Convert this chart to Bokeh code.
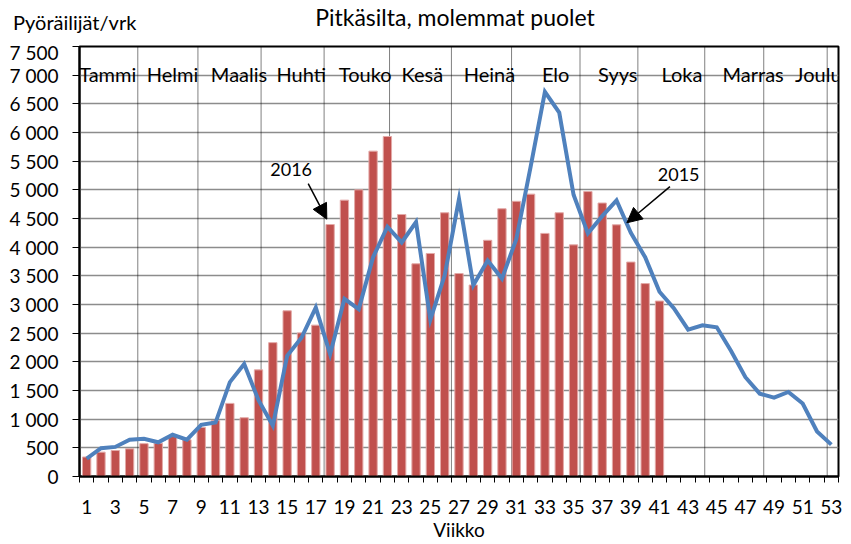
from bokeh.plotting import figure
from bokeh.layouts import column
from bokeh.models import (FixedTicker, Label, Arrow, NormalHead, ColumnDataSource,
                          Range1d, Div)
from bokeh.core.properties import value
from bokeh.embed import file_html
from bokeh.resources import INLINE

# ---- data ----
weeks = list(range(1, 54))
weeks_2016 = list(range(1, 42))
visits_2016 = [340, 425, 453, 482, 573, 580, 700, 640, 855, 975,
               1275, 1025, 1860, 2335, 2890, 2505, 2640, 4395, 4820, 5000,
               5675, 5930, 4570, 3710, 3890, 4600, 3540, 3340, 4120, 4670,
               4800, 4925, 4240, 4600, 4040, 4970, 4770, 4390, 3740, 3365,
               3060]
visits_2015 = [310, 493, 516, 642, 659, 597, 728, 642, 900, 941,
               1646, 1961, 1330, 889, 2104, 2420, 2947, 2133, 3100, 2920,
               3824, 4357, 4082, 4437, 2735, 3509, 4839, 3337, 3767, 3452,
               4140, 5401, 6708, 6347, 4914, 4240, 4541, 4816, 4250, 3824,
               3222, 2936, 2563, 2637, 2602, 2190, 1732, 1445, 1376, 1474,
               1273, 786, 556]
months = ["Tammi", "Helmi", "Maalis", "Huhti", "Touko", "Kesä", "Heinä",
          "Elo", "Syys", "Loka", "Marras", "Joulu"]
month_label_x = [2.47, 6.99, 11.64, 15.98, 20.45, 24.44, 29.13, 33.75,
                 38.09, 42.57, 47.54, 52.09]
month_bounds = [4.57, 8.77, 13.18, 17.58, 22.15, 26.47, 30.67, 35.45,
                39.49, 44.16, 48.28, 52.71]
y_ticks = list(range(0, 7501, 500))
y_tick_labels = ["0", "500", "1 000", "1 500", "2 000", "2 500", "3 000",
                 "3 500", "4 000", "4 500", "5 000", "5 500", "6 000",
                 "6 500", "7 000", "7 500"]
x_tick_labels = list(range(1, 54, 2))

title_text = "Pitkäsilta, molemmat puolet"
y_label_text = "Pyöräilijät/vrk"
x_label_text = "Viikko"

FONT = "Lato"
TXT = "#000000"

p = figure(width=850, height=503, output_backend="svg", toolbar_location=None,
           x_range=Range1d(0.5, 53.5), y_range=Range1d(0, 7500),
           min_border_left=79, min_border_right=12, min_border_top=6,
           min_border_bottom=59)
p.background_fill_color = "white"
p.border_fill_color = "white"
p.outline_line_color = "black"
p.outline_line_width = 2

# grid
p.xgrid.grid_line_color = None
p.ygrid.ticker = FixedTicker(ticks=y_ticks)
p.ygrid.grid_line_color = "#8c8c8c"
p.ygrid.grid_line_width = 1.5

# y axis
p.yaxis.ticker = FixedTicker(ticks=y_ticks)
p.yaxis.major_label_overrides = {t: s for t, s in zip(y_ticks, y_tick_labels)}
p.yaxis.major_label_text_font = FONT
p.yaxis.major_label_text_font_size = "19px"
p.yaxis.major_label_text_color = TXT
p.yaxis.axis_line_color = "black"
p.yaxis.axis_line_width = 2
p.yaxis.major_tick_out = 7
p.yaxis.major_tick_in = 0
p.yaxis.major_tick_line_color = "black"
p.yaxis.minor_tick_line_color = None
p.yaxis.major_label_standoff = 14

# x axis
p.xaxis.ticker = FixedTicker(ticks=x_tick_labels,
                             minor_ticks=[w - 0.5 for w in weeks] + [53.5])
p.xaxis.major_label_text_font = FONT
p.xaxis.major_label_text_font_size = "19px"
p.xaxis.major_label_text_color = TXT
p.xaxis.axis_line_color = "black"
p.xaxis.axis_line_width = 2
p.xaxis.major_tick_line_color = None
p.xaxis.major_tick_out = 6
p.xaxis.minor_tick_line_color = "black"
p.xaxis.minor_tick_out = 6
p.xaxis.minor_tick_in = 0
p.xaxis.major_label_standoff = 17
p.xaxis.axis_label = x_label_text
p.xaxis.axis_label_text_font = FONT
p.xaxis.axis_label_text_font_size = "19px"
p.xaxis.axis_label_text_font_style = "normal"
p.xaxis.axis_label_text_color = TXT
p.xaxis.axis_label_standoff = 1

# month dividers
p.segment(x0=month_bounds, x1=month_bounds, y0=[0] * len(month_bounds),
          y1=[7500] * len(month_bounds), line_color="black", line_width=1,
          line_dash="1 1")

# bars 2016
p.vbar(x=weeks_2016, top=visits_2016, width=0.58, fill_color="#C0504D",
       line_color="#E3A9A7", line_width=1)

# line 2015
p.line(x=weeks, y=visits_2015, line_color="#4F81BD", line_width=4,
       line_join="miter")

# month labels
src = ColumnDataSource(dict(x=month_label_x, y=[7020] * len(months), t=months))
p.text(x="x", y="y", text="t", source=src, text_font=value(FONT),
       text_font_size="20px", text_align="center",
       text_baseline="alphabetic", text_color=TXT)

# annotations
p.add_layout(Label(x=15.28, y=5349, text="2016", text_font=FONT,
                   text_font_size="18px", text_align="center",
                   text_baseline="middle", text_color=TXT))
p.add_layout(Arrow(end=NormalHead(size=15, fill_color="black",
                                  line_color="black"),
                   x_start=16.47, y_start=5108, x_end=17.77, y_end=4489,
                   line_color="black", line_width=1.5))
p.add_layout(Label(x=42.34, y=5263, text="2015", text_font=FONT,
                   text_font_size="18px", text_align="center",
                   text_baseline="middle", text_color=TXT))
p.add_layout(Arrow(end=NormalHead(size=15, fill_color="black",
                                  line_color="black"),
                   x_start=41.73, y_start=5056, x_end=38.72, y_end=4425,
                   line_color="black", line_width=1.5))

# title and y label above the figure
header_html = (
    '<div style="position:relative;width:850px;height:40px;'
    'font-family:Lato;color:#000;">'
    '<span style="position:absolute;left:13px;top:12px;font-size:20px;'
    'line-height:20px;white-space:nowrap;">' + y_label_text + '</span>'
    '<span style="position:absolute;left:455px;top:6px;font-size:23px;'
    'line-height:23px;white-space:nowrap;transform:translateX(-50%);">'
    + title_text + '</span></div>'
)
header = Div(text=header_html, width=850, height=40, margin=0)

layout = column(header, p, spacing=0)
open("out.html", "w").write(file_html(layout, INLINE))
